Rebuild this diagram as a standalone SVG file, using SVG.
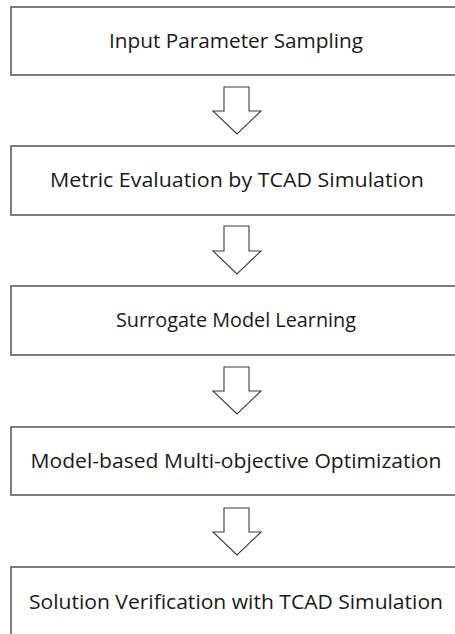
<svg xmlns="http://www.w3.org/2000/svg" width="455" height="634" viewBox="0 0 455 634">
<style>
  .box { fill: #ffffff; stroke: #5e5e5e; stroke-width: 1.6; }
  .lbl { font-family: "Open Sans", "Noto Sans", "DejaVu Sans", sans-serif; font-size: 20px; fill: #1a1a1a; text-anchor: middle; }
  .arr { fill: #ffffff; stroke: #3c3c3c; stroke-width: 1.1; stroke-linejoin: miter; }
</style>
<rect width="455" height="634" fill="#ffffff"/>
<g id="node1">
  <rect class="box" x="11" y="7" width="460" height="68"/>
  <text class="lbl" x="236" y="48" textLength="254" lengthAdjust="spacingAndGlyphs">Input Parameter Sampling</text>
</g>
<g id="node2">
  <rect class="box" x="11" y="146" width="460" height="69"/>
  <text class="lbl" x="237" y="187" textLength="374" lengthAdjust="spacingAndGlyphs">Metric Evaluation by TCAD Simulation</text>
</g>
<g id="node3">
  <rect class="box" x="11" y="286" width="460" height="69"/>
  <text class="lbl" x="236" y="327" textLength="240" lengthAdjust="spacingAndGlyphs">Surrogate Model Learning</text>
</g>
<g id="node4">
  <rect class="box" x="11" y="427" width="460" height="68"/>
  <text class="lbl" x="236" y="468" textLength="411" lengthAdjust="spacingAndGlyphs">Model-based Multi-objective Optimization</text>
</g>
<g id="node5">
  <rect class="box" x="11" y="567" width="460" height="80"/>
  <text class="lbl" x="236" y="609" textLength="414" lengthAdjust="spacingAndGlyphs">Solution Verification with TCAD Simulation</text>
</g>
<g id="connectors">
  <path class="arr" d="M224,87 H249 V111 H261 L237,134 L213,111 H224 Z"/>
  <path class="arr" d="M224,226 H249 V251 H261 L237,274 L213,251 H224 Z"/>
  <path class="arr" d="M224,367 H249 V391 H261 L237,414 L213,391 H224 Z"/>
  <path class="arr" d="M224,508 H249 V532 H261 L237,555 L213,532 H224 Z"/>
</g>
</svg>
